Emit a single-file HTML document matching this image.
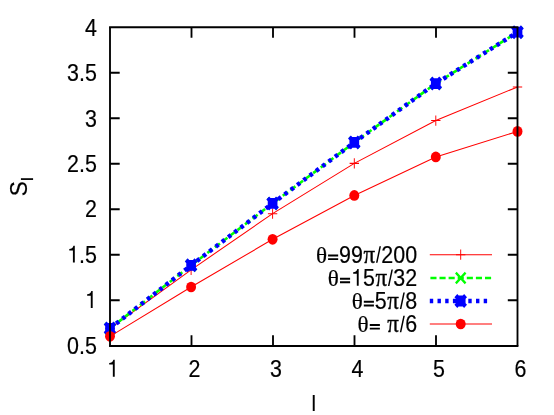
<!DOCTYPE html>
<html><head><meta charset="utf-8"><title>plot</title>
<style>
html,body{margin:0;padding:0;background:#fff;}
body{width:554px;height:415px;overflow:hidden;}
svg{display:block;will-change:transform;}
text{font-family:"Liberation Sans",sans-serif;font-size:24px;fill:#000;stroke:#000;stroke-width:0.2px;}
.sym{font-family:"Liberation Serif",serif;stroke-width:0.22px;}
.pi{stroke-width:0.35px;}
</style></head><body>
<svg width="554" height="415" viewBox="0 0 554 415">
<rect width="554" height="415" fill="#fff"/>

<polyline points="110.00,328.51 191.10,269.81 272.60,213.67 354.30,163.35 435.80,120.58 517.50,86.90" fill="none" stroke="#ff0000" stroke-width="1.05"/>
<path transform="translate(110.00 328.51) scale(0.9 1)" d="M-5.2 0H5.2M0 -5.2V5.2" stroke="#ff0000" stroke-width="1.05" fill="none"/>
<path transform="translate(191.10 269.81) scale(0.9 1)" d="M-5.2 0H5.2M0 -5.2V5.2" stroke="#ff0000" stroke-width="1.05" fill="none"/>
<path transform="translate(272.60 213.67) scale(0.9 1)" d="M-5.2 0H5.2M0 -5.2V5.2" stroke="#ff0000" stroke-width="1.05" fill="none"/>
<path transform="translate(354.30 163.35) scale(0.9 1)" d="M-5.2 0H5.2M0 -5.2V5.2" stroke="#ff0000" stroke-width="1.05" fill="none"/>
<path transform="translate(435.80 120.58) scale(0.9 1)" d="M-5.2 0H5.2M0 -5.2V5.2" stroke="#ff0000" stroke-width="1.05" fill="none"/>
<path transform="translate(517.50 86.90) scale(0.9 1)" d="M-5.2 0H5.2M0 -5.2V5.2" stroke="#ff0000" stroke-width="1.05" fill="none"/>
<polyline points="110.00,328.42 191.10,265.36 272.60,203.39 354.30,142.42 435.80,83.54 517.50,32.21" fill="none" stroke="#00ff00" stroke-width="2.6" stroke-dasharray="6.35 3.12"/>
<path transform="translate(110.00 328.42) scale(0.9 1)" d="M-5.4 -5.4L5.4 5.4M-5.4 5.4L5.4 -5.4" stroke="#00ff00" stroke-width="2.6" fill="none"/>
<path transform="translate(191.10 265.36) scale(0.9 1)" d="M-5.4 -5.4L5.4 5.4M-5.4 5.4L5.4 -5.4" stroke="#00ff00" stroke-width="2.6" fill="none"/>
<path transform="translate(272.60 203.39) scale(0.9 1)" d="M-5.4 -5.4L5.4 5.4M-5.4 5.4L5.4 -5.4" stroke="#00ff00" stroke-width="2.6" fill="none"/>
<path transform="translate(354.30 142.42) scale(0.9 1)" d="M-5.4 -5.4L5.4 5.4M-5.4 5.4L5.4 -5.4" stroke="#00ff00" stroke-width="2.6" fill="none"/>
<path transform="translate(435.80 83.54) scale(0.9 1)" d="M-5.4 -5.4L5.4 5.4M-5.4 5.4L5.4 -5.4" stroke="#00ff00" stroke-width="2.6" fill="none"/>
<path transform="translate(517.50 32.21) scale(0.9 1)" d="M-5.4 -5.4L5.4 5.4M-5.4 5.4L5.4 -5.4" stroke="#00ff00" stroke-width="2.6" fill="none"/>
<polyline points="110.00,328.42 191.10,265.36 272.60,203.39 354.30,142.42 435.80,83.54 517.50,32.21" fill="none" stroke="#0000ff" stroke-width="4.4" stroke-dasharray="3.5 4.36"/>
<path transform="translate(110.00 328.42) scale(0.9 1)" d="M-5.4 0H5.4M0 -5.4V5.4M-5.4 -5.4L5.4 5.4M-5.4 5.4L5.4 -5.4" stroke="#0000ff" stroke-width="4.5" fill="none"/>
<path transform="translate(191.10 265.36) scale(0.9 1)" d="M-5.4 0H5.4M0 -5.4V5.4M-5.4 -5.4L5.4 5.4M-5.4 5.4L5.4 -5.4" stroke="#0000ff" stroke-width="4.5" fill="none"/>
<path transform="translate(272.60 203.39) scale(0.9 1)" d="M-5.4 0H5.4M0 -5.4V5.4M-5.4 -5.4L5.4 5.4M-5.4 5.4L5.4 -5.4" stroke="#0000ff" stroke-width="4.5" fill="none"/>
<path transform="translate(354.30 142.42) scale(0.9 1)" d="M-5.4 0H5.4M0 -5.4V5.4M-5.4 -5.4L5.4 5.4M-5.4 5.4L5.4 -5.4" stroke="#0000ff" stroke-width="4.5" fill="none"/>
<path transform="translate(435.80 83.54) scale(0.9 1)" d="M-5.4 0H5.4M0 -5.4V5.4M-5.4 -5.4L5.4 5.4M-5.4 5.4L5.4 -5.4" stroke="#0000ff" stroke-width="4.5" fill="none"/>
<path transform="translate(517.50 32.21) scale(0.9 1)" d="M-5.4 0H5.4M0 -5.4V5.4M-5.4 -5.4L5.4 5.4M-5.4 5.4L5.4 -5.4" stroke="#0000ff" stroke-width="4.5" fill="none"/>
<polyline points="110.00,336.34 191.10,287.01 272.60,239.33 354.30,195.47 435.80,156.97 517.50,131.40" fill="none" stroke="#ff0000" stroke-width="1.05"/>
<ellipse cx="110.00" cy="336.34" rx="4.98" ry="5.35" fill="#ff0000"/>
<ellipse cx="191.10" cy="287.01" rx="4.98" ry="5.35" fill="#ff0000"/>
<ellipse cx="272.60" cy="239.33" rx="4.98" ry="5.35" fill="#ff0000"/>
<ellipse cx="354.30" cy="195.47" rx="4.98" ry="5.35" fill="#ff0000"/>
<ellipse cx="435.80" cy="156.97" rx="4.98" ry="5.35" fill="#ff0000"/>
<ellipse cx="517.50" cy="131.40" rx="4.98" ry="5.35" fill="#ff0000"/>
<path d="M429.8 254.65H492.0" stroke="#ff0000" stroke-width="1.05"/>
<path transform="translate(460.70 254.65) scale(0.9 1)" d="M-5.2 0H5.2M0 -5.2V5.2" stroke="#ff0000" stroke-width="1.05" fill="none"/>
<path d="M430.40000000000003 277.95H492.0" stroke="#00ff00" stroke-width="2.6" stroke-dasharray="6.1 3.0"/>
<path transform="translate(460.70 277.95) scale(0.9 1)" d="M-5.4 -5.4L5.4 5.4M-5.4 5.4L5.4 -5.4" stroke="#00ff00" stroke-width="2.6" fill="none"/>
<path d="M429.8 301.0H489.5" stroke="#0000ff" stroke-width="4.4" stroke-dasharray="3.4 4.3"/>
<path transform="translate(460.70 301.00) scale(0.9 1)" d="M-5.4 0H5.4M0 -5.4V5.4M-5.4 -5.4L5.4 5.4M-5.4 5.4L5.4 -5.4" stroke="#0000ff" stroke-width="4.5" fill="none"/>
<path d="M429.8 324.0H492.0" stroke="#ff0000" stroke-width="1.05"/>
<ellipse cx="460.70" cy="324.00" rx="4.98" ry="5.35" fill="#ff0000"/>
<text class="sym" transform="translate(315.91 262.6) scale(0.9644 0.92)">θ</text>
<path d="M328.07 255.50h10.1M328.07 259.10h10.1" stroke="#000" stroke-width="1.95" fill="none"/>
<text transform="translate(339.09 262.6) scale(0.893 1)" xml:space="preserve">99</text>
<text class="sym pi" transform="translate(363.52 262.6) scale(0.9555 1.05)">π</text>
<path d="M375.99 262.70L377.49 262.70L380.99 246.20L379.49 246.20Z" fill="#000"/>
<text transform="translate(381.35 262.6) scale(0.893 1)" xml:space="preserve">200</text>
<text class="sym" transform="translate(327.82 285.8) scale(0.9644 0.92)">θ</text>
<path d="M339.99 278.70h10.1M339.99 282.30h10.1" stroke="#000" stroke-width="1.95" fill="none"/>
<path transform="translate(351.00 285.8) scale(0.02143 -0.02400)" d="M359 0H271V505H101V566C195 572 268 612 297 703H359Z" fill="#000"/>
<text transform="translate(362.92 285.8) scale(0.893 1)" xml:space="preserve">5</text>
<text class="sym pi" transform="translate(375.44 285.8) scale(0.9555 1.05)">π</text>
<path d="M387.91 285.90L389.41 285.90L392.91 269.40L391.41 269.40Z" fill="#000"/>
<text transform="translate(393.27 285.8) scale(0.893 1)" xml:space="preserve">32</text>
<text class="sym" transform="translate(351.65 308.9) scale(0.9644 0.92)">θ</text>
<path d="M363.82 301.80h10.1M363.82 305.40h10.1" stroke="#000" stroke-width="1.95" fill="none"/>
<text transform="translate(374.84 308.9) scale(0.893 1)" xml:space="preserve">5</text>
<text class="sym pi" transform="translate(387.35 308.9) scale(0.9555 1.05)">π</text>
<path d="M399.83 309.00L401.33 309.00L404.83 292.50L403.33 292.50Z" fill="#000"/>
<text transform="translate(405.18 308.9) scale(0.893 1)" xml:space="preserve">8</text>
<text class="sym" transform="translate(357.61 332.1) scale(0.9644 0.92)">θ</text>
<path d="M369.78 325.00h10.1M369.78 328.60h10.1" stroke="#000" stroke-width="1.95" fill="none"/>
<text class="sym pi" transform="translate(387.35 332.1) scale(0.9555 1.05)">π</text>
<path d="M399.83 332.20L401.33 332.20L404.83 315.70L403.33 315.70Z" fill="#000"/>
<text transform="translate(405.18 332.1) scale(0.893 1)" xml:space="preserve">6</text>
<path d="M109.075 27.3H518.425M109.075 345.95H518.425" fill="none" stroke="#000" stroke-width="2.0"/>
<path d="M110.0 27.3V345.8M517.5 27.3V345.8" fill="none" stroke="#000" stroke-width="1.85"/>
<path d="M110.0 300.30h9.7M517.5 300.30h-9.7M110.0 254.80h9.7M517.5 254.80h-9.7M110.0 209.30h9.7M517.5 209.30h-9.7M110.0 163.80h9.7M517.5 163.80h-9.7M110.0 118.30h9.7M517.5 118.30h-9.7M110.0 72.80h9.7M517.5 72.80h-9.7" fill="none" stroke="#000" stroke-width="2.0"/>
<path d="M191.50 345.8v-10.5M191.50 27.3v10.5M273.00 345.8v-10.5M273.00 27.3v10.5M354.50 345.8v-10.5M354.50 27.3v10.5M436.00 345.8v-10.5M436.00 27.3v10.5" fill="none" stroke="#000" stroke-width="1.85"/>
<text transform="translate(67.11 353.8) scale(0.893 1)" xml:space="preserve">0.5</text>
<path transform="translate(84.98 307.9) scale(0.02143 -0.02400)" d="M359 0H271V505H101V566C195 572 268 612 297 703H359Z" fill="#000"/>
<path transform="translate(67.11 262.5) scale(0.02143 -0.02400)" d="M359 0H271V505H101V566C195 572 268 612 297 703H359Z" fill="#000"/>
<text transform="translate(79.03 262.5) scale(0.893 1)" xml:space="preserve">.5</text>
<text transform="translate(84.98 217.4) scale(0.893 1)" xml:space="preserve">2</text>
<text transform="translate(67.11 171.8) scale(0.893 1)" xml:space="preserve">2.5</text>
<text transform="translate(84.98 127.15) scale(0.893 1)" xml:space="preserve">3</text>
<text transform="translate(67.11 81.2) scale(0.893 1)" xml:space="preserve">3.5</text>
<text transform="translate(84.98 36.1) scale(0.893 1)" xml:space="preserve">4</text>
<path transform="translate(107.04 376.7) scale(0.02143 -0.02400)" d="M359 0H271V505H101V566C195 572 268 612 297 703H359Z" fill="#000"/>
<text transform="translate(188.54 376.7) scale(0.893 1)" xml:space="preserve">2</text>
<text transform="translate(270.04 377.2) scale(0.893 1)" xml:space="preserve">3</text>
<text transform="translate(351.54 377.2) scale(0.893 1)" xml:space="preserve">4</text>
<text transform="translate(433.04 377.2) scale(0.893 1)" xml:space="preserve">5</text>
<text transform="translate(514.54 377.2) scale(0.893 1)" xml:space="preserve">6</text>
<text transform="translate(313.75 411.2) scale(0.8483 0.92)" text-anchor="middle" style="stroke-width:0.15px">l</text>
<text transform="translate(26.7 196.2) scale(1.0136 0.94) rotate(-90)">S</text>
<text transform="translate(32.6 181.2) scale(0.893 1) rotate(-90)" font-size="19.2px" style="font-size:19.2px">l</text>
</svg></body></html>
